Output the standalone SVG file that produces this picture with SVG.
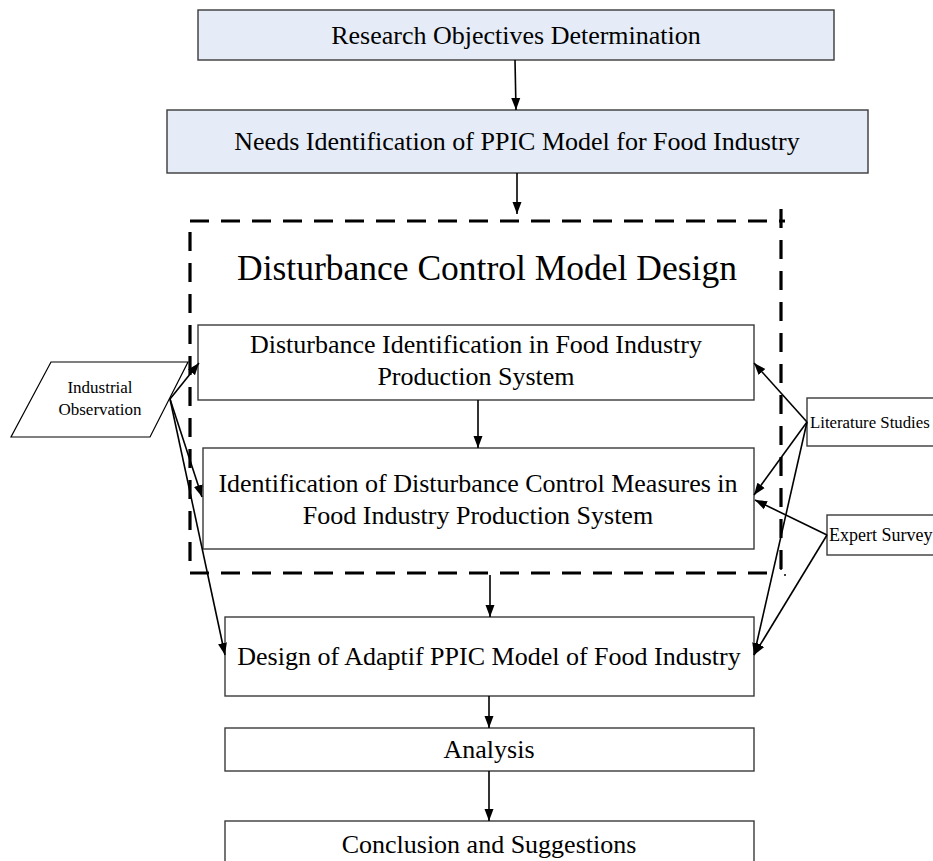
<svg xmlns="http://www.w3.org/2000/svg" width="933" height="861" viewBox="0 0 933 861">
<defs>
<marker id="ah" viewBox="0 0 12 10" refX="12" refY="5" markerWidth="12" markerHeight="10" markerUnits="userSpaceOnUse" orient="auto">
<path d="M0,0.5 L12,5 L0,9.5 z" fill="#000"/>
</marker>
<style>
.box{fill:#fff;stroke:#3a3a3a;stroke-width:1.4}
.blue{fill:#e5ecf7}
.t{font-family:"Liberation Serif","Times New Roman",serif;font-size:26px;fill:#000;text-anchor:middle}
.s{font-family:"Liberation Serif","Times New Roman",serif;font-size:17px;fill:#000;text-anchor:middle}
.c line{stroke:#000;stroke-width:1.6;marker-end:url(#ah)}
.dash{fill:none;stroke:#000;stroke-width:3.2;stroke-dasharray:19 12}
</style>
</defs>
<rect width="933" height="861" fill="#fff"/>

<g id="group-disturbance">
<path class="dash" d="M190,221 H785"/>
<path class="dash" d="M781,209 V573"/>
<path class="dash" d="M190,232 V573 H775"/>
<text class="t" x="487" y="280" style="font-size:35.5px">Disturbance Control Model Design</text>
<circle cx="781" cy="569" r="1" fill="#000"/>
<circle cx="785" cy="575" r="1" fill="#000"/>
</g>

<g id="n-research">
<rect class="box blue" x="198" y="10" width="636" height="50"/>
<text class="t" x="516" y="44">Research Objectives Determination</text>
</g>
<g id="n-needs">
<rect class="box blue" x="167" y="110" width="701" height="63"/>
<text class="t" x="517" y="150">Needs Identification of PPIC Model for Food Industry</text>
</g>
<g id="n-dist-ident">
<rect class="box" x="198" y="325" width="556" height="75"/>
<text class="t" x="476" y="353">Disturbance Identification in Food Industry</text>
<text class="t" x="476" y="385">Production System</text>
</g>
<g id="n-control-measures">
<rect class="box" x="203" y="448" width="551" height="101"/>
<text class="t" x="478" y="492">Identification of Disturbance Control Measures in</text>
<text class="t" x="478" y="524">Food Industry Production System</text>
</g>
<g id="n-design">
<rect class="box" x="225" y="617" width="529" height="79"/>
<text class="t" x="489" y="665">Design of Adaptif PPIC Model of Food Industry</text>
</g>
<g id="n-analysis">
<rect class="box" x="225" y="728" width="529" height="43"/>
<text class="t" x="489" y="758">Analysis</text>
</g>
<g id="n-conclusion">
<rect class="box" x="225" y="821" width="529" height="60"/>
<text class="t" x="489" y="853">Conclusion and Suggestions</text>
</g>
<g id="n-industrial">
<path d="M51,362 H188 L150,437 H11 Z" fill="#fff" stroke="#000" stroke-width="1.2"/>
<text class="s" x="100" y="393">Industrial</text>
<text class="s" x="100" y="415">Observation</text>
</g>
<g id="n-literature">
<rect class="box" x="807" y="398" width="140" height="48"/>
<text class="s" x="810" y="428" style="text-anchor:start;font-size:16.8px">Literature Studies</text>
</g>
<g id="n-expert">
<rect class="box" x="827" y="515" width="120" height="40"/>
<text class="s" x="829" y="541" style="text-anchor:start;font-size:18px">Expert Survey</text>
</g>

<g id="connectors" class="c">
<line x1="515" y1="60" x2="516" y2="110"/>
<line x1="517" y1="173" x2="517" y2="214"/>
<line x1="478" y1="400" x2="478" y2="448"/>
<line x1="490" y1="575" x2="490" y2="617"/>
<line x1="489" y1="696" x2="489" y2="728"/>
<line x1="489" y1="771" x2="489" y2="821"/>
<line x1="170" y1="399" x2="199" y2="363"/>
<line x1="170" y1="399" x2="202" y2="497"/>
<line x1="170" y1="399" x2="225" y2="655"/>
<line x1="807" y1="422" x2="754" y2="363"/>
<line x1="807" y1="422" x2="754" y2="495"/>
<line x1="807" y1="422" x2="754" y2="655"/>
<line x1="827" y1="535" x2="755" y2="500"/>
<line x1="827" y1="535" x2="754" y2="655"/>
</g>
</svg>
